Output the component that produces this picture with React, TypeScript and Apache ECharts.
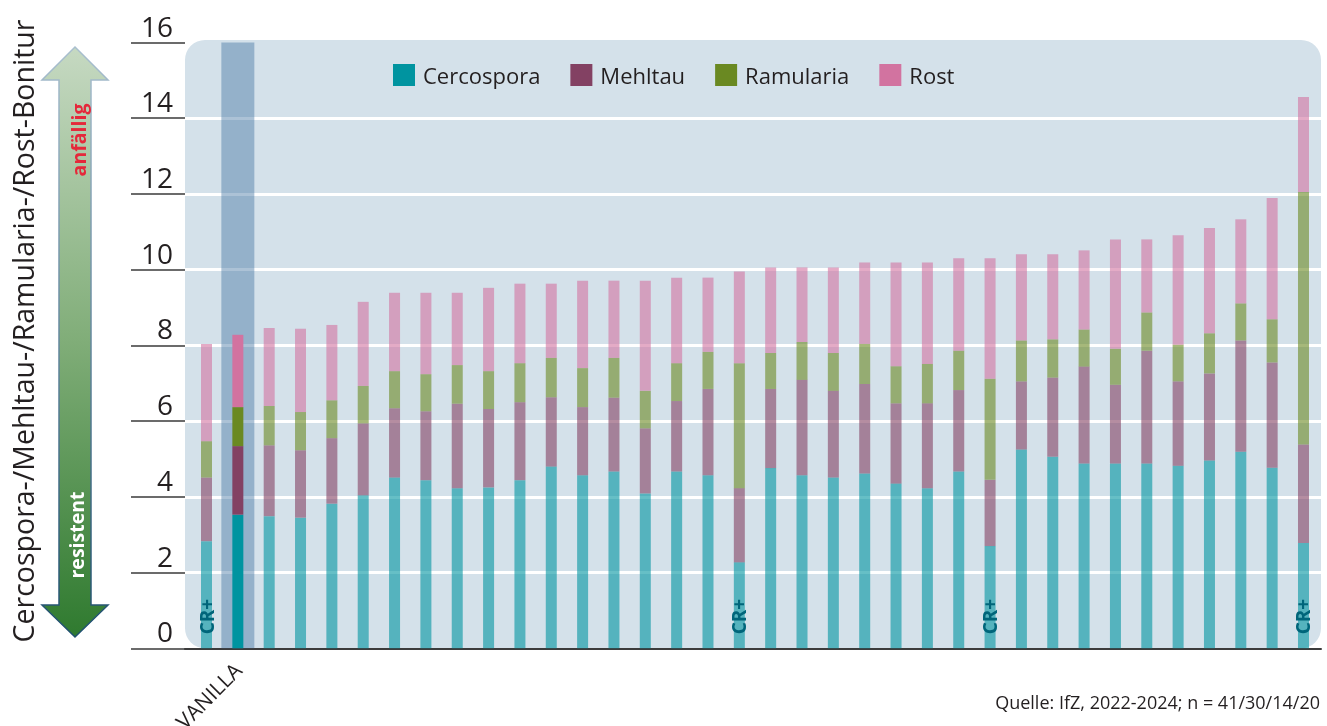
import React, { useEffect, useRef } from "react";
import * as echarts from "echarts";

const categories = ["", "VANILLA", "", "", "", "", "", "", "", "", "", "", "", "", "", "", "", "", "", "", "", "", "", "", "", "", "", "", "", "", "", "", "", "", "", ""];
const seriesNames = ["Cercospora", "Mehltau", "Ramularia", "Rost"];
const cercospora = [2.83, 3.53, 3.49, 3.45, 3.82, 4.04, 4.51, 4.44, 4.23, 4.25, 4.44, 4.80, 4.57, 4.67, 4.09, 4.67, 4.57, 2.27, 4.76, 4.57, 4.51, 4.62, 4.35, 4.23, 4.67, 2.70, 5.25, 5.06, 4.88, 4.88, 4.88, 4.82, 4.96, 5.19, 4.77, 2.78];
const mehltau = [1.68, 1.81, 1.87, 1.78, 1.73, 1.90, 1.83, 1.82, 2.23, 2.07, 2.06, 1.83, 1.80, 1.95, 1.72, 1.86, 2.28, 1.96, 2.09, 2.52, 2.29, 2.36, 2.12, 2.24, 2.15, 1.75, 1.80, 2.09, 2.56, 2.08, 2.98, 2.23, 2.30, 2.94, 2.78, 2.60];
const ramularia = [0.96, 1.03, 1.04, 1.01, 1.00, 0.99, 0.98, 0.98, 1.02, 1.00, 1.03, 1.04, 1.03, 1.05, 0.99, 1.00, 0.98, 3.30, 0.95, 1.00, 1.00, 1.06, 0.98, 1.04, 1.04, 2.67, 1.08, 1.01, 0.98, 0.95, 1.01, 0.97, 1.06, 0.98, 1.14, 6.67];
const rost = [2.57, 1.91, 2.06, 2.20, 1.99, 2.22, 2.07, 2.15, 1.91, 2.20, 2.10, 1.96, 2.31, 2.04, 2.91, 2.26, 1.96, 2.42, 2.26, 1.97, 2.26, 2.15, 2.74, 2.68, 2.44, 3.18, 2.28, 2.25, 2.09, 2.89, 1.93, 2.89, 2.78, 2.22, 3.20, 2.51];
const crPlusIndices = [0, 17, 25, 35];
const crPlusLabel = "CR+";
const highlightCategory = "VANILLA";
const yMin = 0;
const yMax = 16;
const yInterval = 2;
const yTitle = "Cercospora-/Mehltau-/Ramularia-/Rost-Bonitur";
const arrowTop = "anfällig";
const arrowBottom = "resistent";
const sourceText = "Quelle: IfZ, 2022-2024; n = 41/30/14/20";

const colors = ["#0094a0", "#834163", "#6a8922", "#d273a0"];
const FONT = "'Open Sans', 'Noto Sans', sans-serif";

function withAlpha(hex: string, a: number) {
  const r = parseInt(hex.slice(1, 3), 16);
  const g = parseInt(hex.slice(3, 5), 16);
  const b = parseInt(hex.slice(5, 7), 16);
  return `rgba(${r},${g},${b},${a})`;
}

export default function App() {
  const ref = useRef<HTMLDivElement>(null);
  useEffect(() => {
    if (!ref.current) return;
    const chart = echarts.init(ref.current, undefined, { renderer: "svg" });
    const allValues = [cercospora, mehltau, ramularia, rost];
    const hlIndex = categories.indexOf(highlightCategory);

    const barSeries = allValues.map((vals, si) => ({
      name: seriesNames[si],
      type: "bar",
      stack: "total",
      xAxisIndex: 1,
      yAxisIndex: 1,
      barWidth: 11,
      itemStyle: { color: colors[si] },
      z: 3,
      data: vals.map((v, i) => {
        const item: any = { value: v };
        if (i !== hlIndex) item.itemStyle = { color: withAlpha(colors[si], 0.6) };
        if (si === 0 && crPlusIndices.includes(i)) {
          item.label = {
            show: true,
            formatter: crPlusLabel,
            position: "insideBottom",
            rotate: 90,
            align: "left",
            verticalAlign: "middle",
            distance: 14,
            color: "#00657a",
            fontWeight: "bold",
            fontSize: 19,
            fontFamily: FONT,
          };
        }
        return item;
      }),
    }));

    const option: any = {
      animation: false,
      textStyle: { fontFamily: FONT },
      grid: [
        { left: 185, right: 6, top: 42.5, bottom: 77.7, outerBoundsMode: "none" },
        { left: 190.83, right: 7.83, top: 42.5, bottom: 77.7, outerBoundsMode: "none" },
      ],
      legend: {
        data: seriesNames,
        left: 393,
        top: 64,
        padding: 0,
        icon: "rect",
        itemWidth: 22,
        itemHeight: 22,
        itemGap: 30,
        textStyle: { fontSize: 22, color: "#231f20", fontFamily: FONT, padding: [0, 0, 0, 3] },
      },
      xAxis: [
        {
          type: "value",
          gridIndex: 0,
          min: 0,
          max: 1,
          axisLine: { show: true, onZero: false, lineStyle: { color: "#3c3c3c", width: 2 } },
          axisTick: { show: false },
          axisLabel: { show: false },
          splitLine: { show: false },
        },
        {
          type: "category",
          gridIndex: 1,
          data: categories,
          axisLine: { show: false },
          axisTick: { show: false },
          axisLabel: {
            interval: 0,
            rotate: 45,
            margin: 18,
            fontSize: 21,
            color: "#231f20",
            fontFamily: FONT,
          },
        },
        {
          type: "category",
          gridIndex: 1,
          data: categories,
          show: false,
        },
      ],
      yAxis: [
        {
          type: "value",
          gridIndex: 0,
          min: yMin,
          max: yMax,
          interval: yInterval,
          axisLine: { show: false },
          axisTick: { show: true, inside: false, length: 54, lineStyle: { color: "#3a3a3a", width: 1.5 } },
          axisLabel: {
            fontSize: 28,
            color: "#231f20",
            margin: 12,
            verticalAlign: "bottom",
            padding: [0, 0, 3, 0],
            fontFamily: FONT,
          },
          splitLine: { show: true, showMinLine: false, showMaxLine: false, lineStyle: { color: "#ffffff", width: 3 } },
        },
        {
          type: "value",
          gridIndex: 1,
          min: yMin,
          max: yMax,
          interval: yInterval,
          show: false,
          splitLine: { show: false },
        },
      ],
      graphic: [
        {
          type: "rect",
          z: -10,
          silent: true,
          shape: { x: 185, y: 40, width: 1136, height: 608.3, r: 20 },
          style: { fill: "#d4e1ea" },
        },
        {
          type: "polygon",
          z: 5,
          silent: true,
          shape: {
            points: [
              [75, 47], [108, 80], [91, 80], [91, 605], [108, 605], [75, 637],
              [42, 605], [59, 605], [59, 80], [42, 80],
            ],
          },
          style: {
            fill: new echarts.graphic.LinearGradient(0, 0, 0, 1, [
              { offset: 0, color: "#c6d9c2" },
              { offset: 0.5, color: "#80ad78" },
              { offset: 1, color: "#2f7a2f" },
            ]),
            stroke: new echarts.graphic.LinearGradient(0, 0, 0, 1, [
              { offset: 0, color: "#a9bfcf" },
              { offset: 1, color: "#1e4f6e" },
            ]),
            lineWidth: 1.5,
          },
        },
        {
          type: "text",
          z: 6,
          x: 78,
          y: 140,
          rotation: Math.PI / 2,
          style: {
            text: arrowTop,
            fill: "#e5283a",
            font: `bold 19.5px ${FONT}`,
            align: "center",
            verticalAlign: "middle",
          },
        },
        {
          type: "text",
          z: 6,
          x: 76,
          y: 535,
          rotation: Math.PI / 2,
          style: {
            text: arrowBottom,
            fill: "#ffffff",
            font: `bold 19.5px ${FONT}`,
            align: "center",
            verticalAlign: "middle",
          },
        },
        {
          type: "text",
          z: 6,
          x: 23,
          y: 331,
          rotation: Math.PI / 2,
          style: {
            text: yTitle,
            fill: "#231f20",
            font: `28.5px ${FONT}`,
            align: "center",
            verticalAlign: "middle",
          },
        },
        {
          type: "text",
          z: 6,
          x: 1320,
          y: 702,
          style: {
            text: sourceText,
            fill: "#231f20",
            font: `18px ${FONT}`,
            align: "right",
            verticalAlign: "middle",
          },
        },
      ],
      series: [
        {
          name: "highlight",
          type: "bar",
          xAxisIndex: 2,
          yAxisIndex: 1,
          barWidth: 33,
          silent: true,
          z: 1,
          itemStyle: { color: "rgba(70,120,165,0.45)" },
          data: categories.map((c) => (c === highlightCategory ? yMax : "-")),
        },
        ...barSeries,
      ],
    };
    chart.setOption(option);
    return () => chart.dispose();
  }, []);
  return <div ref={ref} style={{ position: "fixed", left: 0, top: 0, width: 1327, height: 726 }} />;
}
